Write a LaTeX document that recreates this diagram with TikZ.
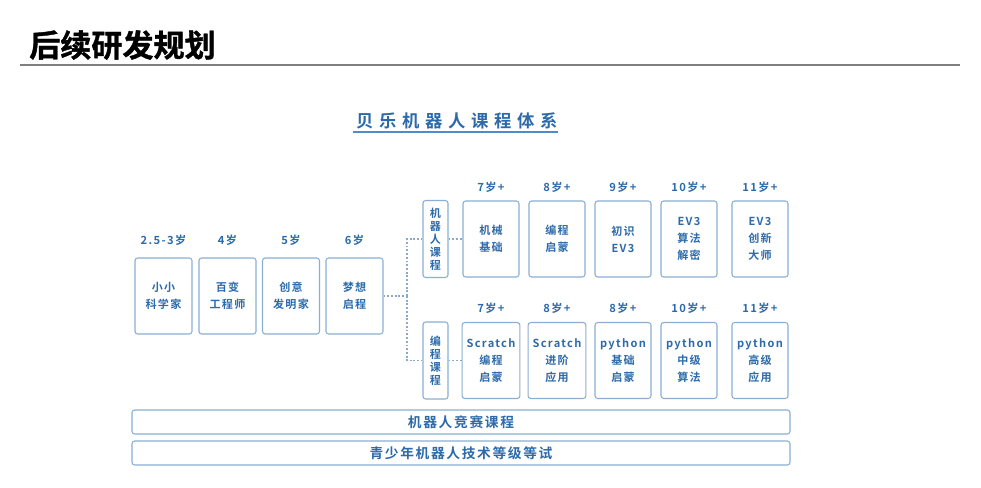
\documentclass[tikz,border=0pt]{standalone}
\usepackage{fontspec}
\usepackage{xcolor}
\newfontfamily\cjkb{Noto Sans CJK SC Bold}[LetterSpace=12]
\newfontfamily\cjksub{Noto Sans CJK SC Bold}[LetterSpace=33]
\newfontfamily\cjktitle{Noto Sans CJK SC Bold}[FakeBold=1.2]
\definecolor{txtblue}{RGB}{44,106,170}
\definecolor{boxblue}{RGB}{138,174,212}
\definecolor{dotblue}{RGB}{141,169,200}
\definecolor{ulblue}{RGB}{79,140,201}
\tikzset{
  box/.style={draw=boxblue, line width=0.8pt, rounded corners=2pt, align=center,
    text=txtblue, font=\cjkb\fontsize{8.3}{12.6}\selectfont},
  agebox/.style={box, minimum width=42.75pt, minimum height=57pt},
  tagbox/.style={box, minimum width=18.75pt, minimum height=57.75pt, inner sep=0pt,
    font=\cjkb\fontsize{8.3}{9.8}\selectfont},
  stepbox/.style={box, minimum width=42pt, minimum height=57pt},
  barbox/.style={box, minimum width=493.5pt, minimum height=18pt, inner sep=0pt,
    font=\cjkb\fontsize{10.3}{12}\selectfont},
  age/.style={text=txtblue, font=\cjkb\fontsize{8.4}{10}\selectfont},
  dotline/.style={draw=dotblue, line width=0.8pt, dash pattern=on 1.4pt off 1.4pt}
}
\begin{document}
\begin{tikzpicture}[x=0.75pt,y=0.75pt,yscale=-1,xscale=1]
\useasboundingbox (0,0) rectangle (981,488);
% Title
\node (title) [anchor=west, inner sep=0pt, font=\cjktitle\fontsize{23.3}{25}\selectfont] at (29,45) {后续研发规划};
\draw [color={rgb, 255:red, 127; green, 127; blue, 127 }, line width=0.8pt] (20,65) -- (960,65);
% Subtitle
\node (subtitle) [inner sep=0pt, text=txtblue, font=\cjksub\fontsize{13}{15}\selectfont] at (457,121) {贝乐机器人课程体系};
\draw [ulblue, line width=1.5pt] ([xshift=-2pt,yshift=8.3pt]subtitle.west) -- ([yshift=8.3pt]subtitle.east);

% Age boxes
\node (p1) [agebox] at (163.5,296) {小小\\科学家};
\node (p2) [agebox] at (227.5,296) {百变\\工程师};
\node (p3) [agebox] at (291,296) {创意\\发明家};
\node (p4) [agebox] at (354.5,296) {梦想\\启程};
\node (a1) [age] at (163.5,240) {2.5-3岁};
\node (a2) [age] at (227.5,240) {4岁};
\node (a3) [age] at (291,240) {5岁};
\node (a4) [age] at (354.5,240) {6岁};

% Course tags
\node (robot) [tagbox] at (435.5,239) {机\\器\\人\\课\\程};
\node (coding) [tagbox] at (435.5,360.5) {编\\程\\课\\程};

% Robot row
\node (r1) [stepbox] at (491,239) {机械\\基础};
\node (r2) [stepbox] at (557,239) {编程\\启蒙};
\node (r3) [stepbox] at (623,239) {初识\\EV3};
\node (r4) [stepbox] at (689,239) {EV3\\算法\\解密};
\node (r5) [stepbox] at (760,239) {EV3\\创新\\大师};
\node (ra1) [age] at (491,187) {7岁+};
\node (ra2) [age] at (557,187) {8岁+};
\node (ra3) [age] at (623,187) {9岁+};
\node (ra4) [age] at (689,187) {10岁+};
\node (ra5) [age] at (760,187) {11岁+};

% Coding row
\node (c1) [stepbox] at (491,360.5) {Scratch\\编程\\启蒙};
\node (c2) [stepbox] at (557,360.5) {Scratch\\进阶\\应用};
\node (c3) [stepbox] at (623,360.5) {python\\基础\\启蒙};
\node (c4) [stepbox] at (689,360.5) {python\\中级\\算法};
\node (c5) [stepbox] at (760,360.5) {python\\高级\\应用};
\node (ca1) [age] at (491,308) {7岁+};
\node (ca2) [age] at (557,308) {8岁+};
\node (ca3) [age] at (623,308) {8岁+};
\node (ca4) [age] at (689,308) {10岁+};
\node (ca5) [age] at (760,308) {11岁+};

% Bars
\node (bar1) [barbox] at (461,422) {机器人竞赛课程};
\node (bar2) [barbox] at (461,453) {青少年机器人技术等级等试};

% Dotted links
\coordinate (fork) at (407,296);
\draw [dotline] (p4.east) -- (fork);
\draw [dotline] (fork) |- (robot.west);
\draw [dotline] (fork) |- (coding.west);
\draw [dotline] (robot.east) -- (r1.west);
\draw [dotline] (coding.east) -- (c1.west);
\end{tikzpicture}
\end{document}
